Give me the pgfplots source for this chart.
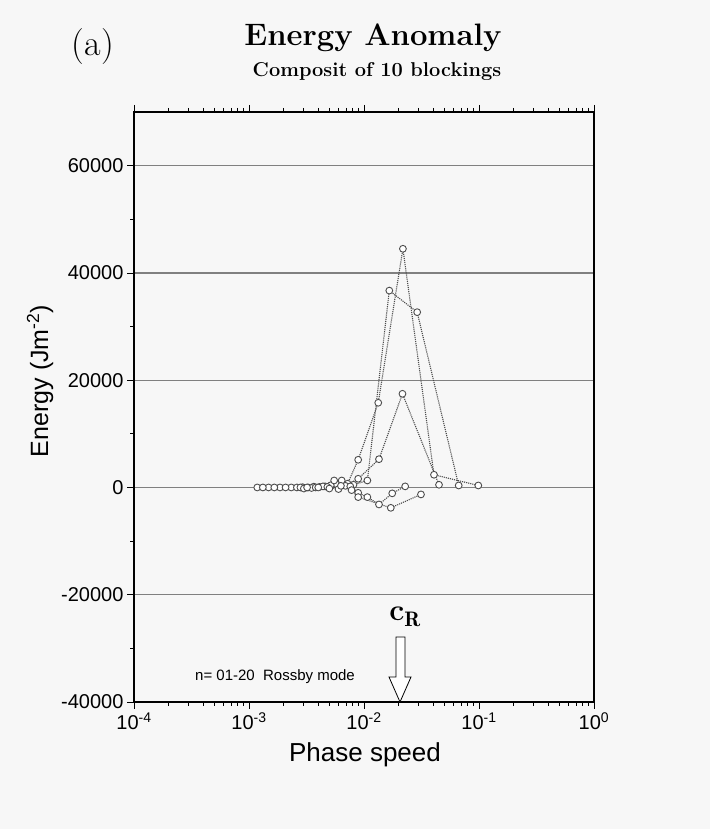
\documentclass[border=0pt]{standalone}
\usepackage{fontspec}
\setsansfont{Liberation Sans}
\usepackage{pgfplots}
\pgfplotsset{compat=1.18}
\pgfplotsset{myplot/.style={draw=black!70, densely dotted, line width=1.1pt,
  mark=*, mark size=3.4pt, mark options={solid, draw=black!70, fill=white, line width=0.9pt}}}
\begin{document}
\begin{tikzpicture}
\fill[black!3] (0pt,0pt) rectangle (710pt,829pt);
\path[use as bounding box] (0pt,0pt) rectangle (710pt,829pt);
\begin{axis}[at={(134pt,127pt)}, anchor=south west, scale only axis,
  width=460pt, height=590pt,
  xmode=log, xmin=1e-4, xmax=1, ymin=-40000, ymax=70000,
  xtick={1e-4,1e-3,1e-2,1e-1,1},
  xticklabels={10\textsuperscript{-4},10\textsuperscript{-3},10\textsuperscript{-2},10\textsuperscript{-1},10\textsuperscript{0}},
  minor xtick={2e-4,3e-4,4e-4,5e-4,6e-4,7e-4,8e-4,9e-4,2e-3,3e-3,4e-3,5e-3,6e-3,7e-3,8e-3,9e-3,2e-2,3e-2,4e-2,5e-2,6e-2,7e-2,8e-2,9e-2,2e-1,3e-1,4e-1,5e-1,6e-1,7e-1,8e-1,9e-1},
  ytick={-40000,-20000,0,20000,40000,60000},
  yticklabels={-40000,-20000,0,20000,40000,60000},
  scaled y ticks=false,
  minor ytick={-30000,-10000,10000,30000,50000},
  ymajorgrids, major grid style={black!50, line width=1.2pt},
  tick align=outside, xtick pos=both, ytick pos=left,
  xticklabel pos=lower,
  major tick length=7pt, minor tick length=4pt,
  axis line style={line width=1.3pt},
  tick style={black, line width=0.8pt},
  ticklabel style={font=\sffamily\fontsize{20}{20}\selectfont},
  /pgf/number format/assume math mode=true,
]
\addplot[myplot] coordinates {(0.00118,0)(0.00148,0)(0.00186,0)(0.00233,0)(0.00292,50)(0.00366,150)(0.00459,200)(0.00575,600)(0.0072,700)(0.0089,5160)(0.0133,15790)(0.0218,44500)(0.0406,2370)(0.0986,370)};
\addplot[myplot] coordinates {(0.00132,0)(0.00166,0)(0.00208,0)(0.00261,0)(0.00327,0)(0.0041,100)(0.00514,400)(0.0064,1300)(0.0081,500)(0.0107,1300)(0.0166,36700)(0.029,32680)(0.0666,370)};
\addplot[myplot] coordinates {(0.0028,0)(0.0035,-100)(0.0044,200)(0.0055,1300)(0.0069,300)(0.0089,1620)(0.0135,5270)(0.0216,17460)(0.0449,500)};
\addplot[myplot] coordinates {(0.0030,-200)(0.0038,0)(0.0048,100)(0.006,-300)(0.0076,200)(0.0089,-1000)(0.0107,-1800)(0.0135,-3170)(0.0176,-1100)(0.0228,200)};
\addplot[myplot] coordinates {(0.0032,0)(0.004,0)(0.005,-200)(0.0063,300)(0.0078,-500)(0.0089,-1800)(0.0171,-3800)(0.0313,-1300)};
\end{axis}
% titles
\node at (93pt,782pt) {\fontsize{36}{36}\selectfont (a)};
\node at (373pt,791pt) {\fontsize{31}{31}\selectfont\bfseries Energy Anomaly};
\node at (377pt,757pt) {\fontsize{20}{20}\selectfont\bfseries Composit of 10 blockings};
\node at (365pt,74pt) {\sffamily\fontsize{26}{26}\selectfont Phase speed};
\node[rotate=90] at (40pt,448pt) {\sffamily\fontsize{25}{25}\selectfont Energy (Jm\textsuperscript{-2})};
\node at (275pt,152pt) {\sffamily\fontsize{15}{15}\selectfont n= 01-20\ \ Rossby mode};
\node at (405pt,212pt) {\fontsize{30}{30}\selectfont\bfseries c$_{\mathbf{R}}$};
\draw[line width=0.8pt, fill=white] (396pt,192pt) -- (405pt,192pt) -- (405pt,152pt) -- (411pt,152pt) -- (400pt,127pt) -- (389pt,152pt) -- (396pt,152pt) -- cycle;
\end{tikzpicture}
\end{document}
